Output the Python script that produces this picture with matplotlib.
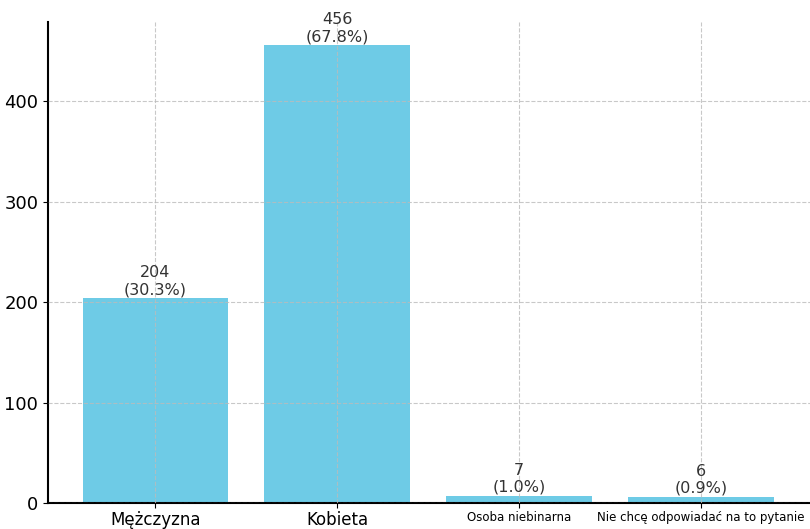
import matplotlib
matplotlib.use("Agg")
import matplotlib.pyplot as plt

categories = ["Mężczyzna", "Kobieta", "Osoba niebinarna", "Nie chcę odpowiadać na to pytanie"]
counts = [204, 456, 7, 6]
percents = [30.3, 67.8, 1.0, 0.9]
label_sizes = [12, 12, 8.5, 8.5]
yticks = [0, 100, 200, 300, 400]

fig = plt.figure(figsize=(8.10, 5.29), dpi=100)
ax = fig.add_axes([48 / 810, 26 / 529, 762 / 810, 481 / 529])

bars = ax.bar(range(len(categories)), counts, width=0.8, color="#6ECBE6")

for bar, n, p in zip(bars, counts, percents):
    ax.text(bar.get_x() + bar.get_width() / 2, bar.get_height() + 1,
            f"{n}\n({p:.1f}%)", ha="center", va="bottom",
            fontsize=11.5, color="#333333", linespacing=1.15)

ax.set_xticks(range(len(categories)))
ax.set_xticklabels(categories)
for lbl, s in zip(ax.get_xticklabels(), label_sizes):
    lbl.set_fontsize(s)
ax.tick_params(axis="x", pad=2)
ax.set_yticks(yticks)
ax.tick_params(axis="y", labelsize=13)
ax.set_ylim(0, 479)
ax.set_xlim(-0.59, 3.6)

ax.grid(True, linestyle="--", color="#bbbbbb", linewidth=0.8, alpha=0.8)
ax.set_axisbelow(False)
ax.spines["top"].set_visible(False)
ax.spines["right"].set_visible(False)
ax.spines["left"].set_linewidth(1.5)
ax.spines["bottom"].set_linewidth(1.5)

fig.savefig("out.png", dpi=100)
